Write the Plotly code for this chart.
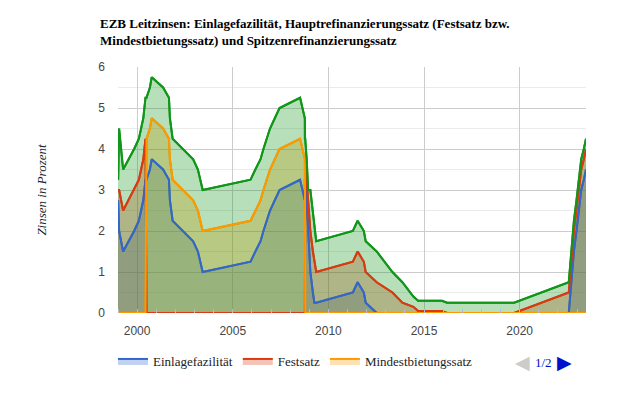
import plotly.graph_objects as go

dates = [
    "1999-01-01", "1999-01-04", "1999-01-22", "1999-04-09", "1999-11-05",
    "2000-02-04", "2000-03-17", "2000-04-28", "2000-06-09", "2000-06-28",
    "2000-09-01", "2000-10-06", "2001-05-11", "2001-08-31", "2001-09-18",
    "2001-11-09", "2002-12-06", "2003-03-07", "2003-06-06", "2005-12-06",
    "2006-03-08", "2006-06-15", "2006-08-09", "2006-10-11", "2006-12-13",
    "2007-03-14", "2007-06-13", "2008-07-09", "2008-10-08", "2008-10-09",
    "2008-10-15", "2008-11-12", "2008-12-10", "2009-01-21", "2009-03-11",
    "2009-04-08", "2009-05-13", "2011-04-13", "2011-07-13", "2011-11-09",
    "2011-12-14", "2012-07-11", "2013-05-08", "2013-11-13", "2014-06-11",
    "2014-09-10", "2015-12-09", "2016-03-16", "2019-09-18", "2022-07-27",
    "2022-09-14", "2022-11-02", "2022-12-21", "2023-02-08", "2023-03-22",
    "2023-05-10", "2023-06-21",
]

einlagefazilitaet = [
    2.00, 2.75, 2.00, 1.50, 2.00,
    2.25, 2.50, 2.75, 3.25, 3.25,
    3.50, 3.75, 3.50, 3.25, 2.75,
    2.25, 1.75, 1.50, 1.00, 1.25,
    1.50, 1.75, 2.00, 2.25, 2.50,
    2.75, 3.00, 3.25, 2.75, 3.25,
    3.25, 2.75, 2.00, 1.00, 0.50,
    0.25, 0.25, 0.50, 0.75, 0.50,
    0.25, 0.00, 0.00, 0.00, -0.10,
    -0.20, -0.30, -0.40, -0.50, 0.00,
    0.75, 1.50, 2.00, 2.50, 3.00,
    3.25, 3.50,
]

festsatz = [
    3.00, 3.00, 3.00, 2.50, 3.00,
    3.25, 3.50, 3.75, 4.25, 0.00,
    0.00, 0.00, 0.00, 0.00, 0.00,
    0.00, 0.00, 0.00, 0.00, 0.00,
    0.00, 0.00, 0.00, 0.00, 0.00,
    0.00, 0.00, 0.00, 0.00, 0.00,
    3.75, 3.25, 2.50, 2.00, 1.50,
    1.25, 1.00, 1.25, 1.50, 1.25,
    1.00, 0.75, 0.50, 0.25, 0.15,
    0.05, 0.05, 0.00, 0.00, 0.50,
    1.25, 2.00, 2.50, 3.00, 3.50,
    3.75, 4.00,
]

mindestbietungssatz = [
    0.00, 0.00, 0.00, 0.00, 0.00,
    0.00, 0.00, 0.00, 0.00, 4.25,
    4.50, 4.75, 4.50, 4.25, 3.75,
    3.25, 2.75, 2.50, 2.00, 2.25,
    2.50, 2.75, 3.00, 3.25, 3.50,
    3.75, 4.00, 4.25, 3.75, 3.75,
    0.00, 0.00, 0.00, 0.00, 0.00,
    0.00, 0.00, 0.00, 0.00, 0.00,
    0.00, 0.00, 0.00, 0.00, 0.00,
    0.00, 0.00, 0.00, 0.00, 0.00,
    0.00, 0.00, 0.00, 0.00, 0.00,
    0.00, 0.00,
]

spitzenrefinanzierungssatz = [
    4.50, 3.25, 4.50, 3.50, 4.00,
    4.25, 4.50, 4.75, 5.25, 5.25,
    5.50, 5.75, 5.50, 5.25, 4.75,
    4.25, 3.75, 3.50, 3.00, 3.25,
    3.50, 3.75, 4.00, 4.25, 4.50,
    4.75, 5.00, 5.25, 4.75, 4.25,
    4.25, 3.75, 3.00, 3.00, 2.50,
    2.25, 1.75, 2.00, 2.25, 2.00,
    1.75, 1.50, 1.00, 0.75, 0.40,
    0.30, 0.30, 0.25, 0.25, 0.75,
    1.50, 2.25, 2.75, 3.25, 3.75,
    4.00, 4.25,
]

series = [
    ("Einlagefazilität", einlagefazilitaet, "#3366cc", "rgba(51,102,204,0.3)", True),
    ("Festsatz", festsatz, "#dc3912", "rgba(220,57,18,0.3)", True),
    ("Mindestbietungssatz", mindestbietungssatz, "#ff9900", "rgba(255,153,0,0.3)", True),
    ("Spitzenrefinanzierungssatz", spitzenrefinanzierungssatz, "#109618", "rgba(16,150,24,0.3)", False),
]

x_ticks = ["2000-01-01", "2005-01-01", "2010-01-01", "2015-01-01", "2020-01-01"]
x_tick_labels = ["2000", "2005", "2010", "2015", "2020"]
y_ticks = [0, 1, 2, 3, 4, 5, 6]

fig = go.Figure()
# areas (with legend entries)
for name, vals, col, fcol, show in series:
    fig.add_trace(go.Scatter(
        x=dates, y=vals, name=name, mode="lines",
        line=dict(color=col, width=2),
        fill="tozeroy", fillcolor=fcol,
        showlegend=show, legendgroup=name,
    ))
# lines on top of all areas
for name, vals, col, fcol, show in series:
    fig.add_trace(go.Scatter(
        x=dates, y=vals, name=name, mode="lines",
        line=dict(color=col, width=2),
        showlegend=False, legendgroup=name, hoverinfo="skip",
    ))

# page has 8px body margin: layout coords = page coords - 8
OFF = 8
W, H = 621 - 2 * OFF, 394 - 2 * OFF
L, T = 118 - OFF, 67 - OFF
R = W - (586 - OFF)
B = H - (313 - OFF)
pw = W - L - R
ph = H - T - B

def px_x(px):
    return (px - OFF - L) / pw

def px_y(py):
    return (H - B - (py - OFF)) / ph

serif = "Liberation Serif, Times New Roman, serif"
sans = "Liberation Sans, Arial, sans-serif"

fig.update_layout(
    width=W, height=H,
    margin=dict(l=L, r=R, t=T, b=B, autoexpand=False),
    paper_bgcolor="white", plot_bgcolor="white",
    title=dict(
        text="<b>EZB Leitzinsen: Einlagefazilität, Hauptrefinanzierungssatz (Festsatz bzw.<br>Mindestbietungssatz) und Spitzenrefinanzierungssatz</b>",
        x=(100 - OFF) / W, xanchor="left", xref="container",
        y=1 - 20 / H, yanchor="top", yref="container",
        font=dict(family=serif, size=13, color="#000000"),
    ),
    xaxis=dict(
        type="date",
        range=["1999-01-01", "2023-06-21"],
        tickvals=x_ticks, ticktext=x_tick_labels,
        showgrid=True, gridcolor="#cccccc", gridwidth=1,
        zeroline=False, showline=False,
        ticks="", ticklabelstandoff=9,
        tickfont=dict(family=sans, size=12, color="#444444"),
        minor=dict(dtick="M12", tick0="1999-01-01", ticks="inside", ticklen=4,
                   tickcolor="#bbbbbb", showgrid=False),
        fixedrange=True,
    ),
    yaxis=dict(
        range=[0, 6], tickvals=y_ticks,
        showgrid=True, gridcolor="#cccccc", gridwidth=1,
        zeroline=False, showline=False,
        ticks="", ticklabelstandoff=12,
        tickfont=dict(family=sans, size=12, color="#444444"),
        minor=dict(dtick=0.5, showgrid=True, gridcolor="#ebebeb", ticks=""),
        title=dict(text="<i>Zinsen in Prozent</i>", standoff=48,
                   font=dict(family=serif, size=13, color="#222222")),
        fixedrange=True,
    ),
    legend=dict(
        orientation="h", x=px_x(113), xanchor="left",
        y=px_y(346), yanchor="top",
        font=dict(family=serif, size=13, color="#222222"),
        bgcolor="rgba(0,0,0,0)",
        itemclick=False, itemdoubleclick=False,
    ),
    showlegend=True,
)

fig.add_annotation(x=px_x(522), y=px_y(362), xref="paper", yref="paper",
                   xanchor="center", yanchor="middle",
                   text="◀", showarrow=False, font=dict(family="DejaVu Sans", size=19, color="#cccccc"))
fig.add_annotation(x=px_x(543), y=px_y(362), xref="paper", yref="paper",
                   xanchor="center", yanchor="middle",
                   text="1/2", showarrow=False, font=dict(family=serif, size=13, color="#0011cc"))
fig.add_annotation(x=px_x(564), y=px_y(362), xref="paper", yref="paper",
                   xanchor="center", yanchor="middle",
                   text="▶", showarrow=False, font=dict(family="DejaVu Sans", size=19, color="#0011cc"))

fig.write_html("out.html")
